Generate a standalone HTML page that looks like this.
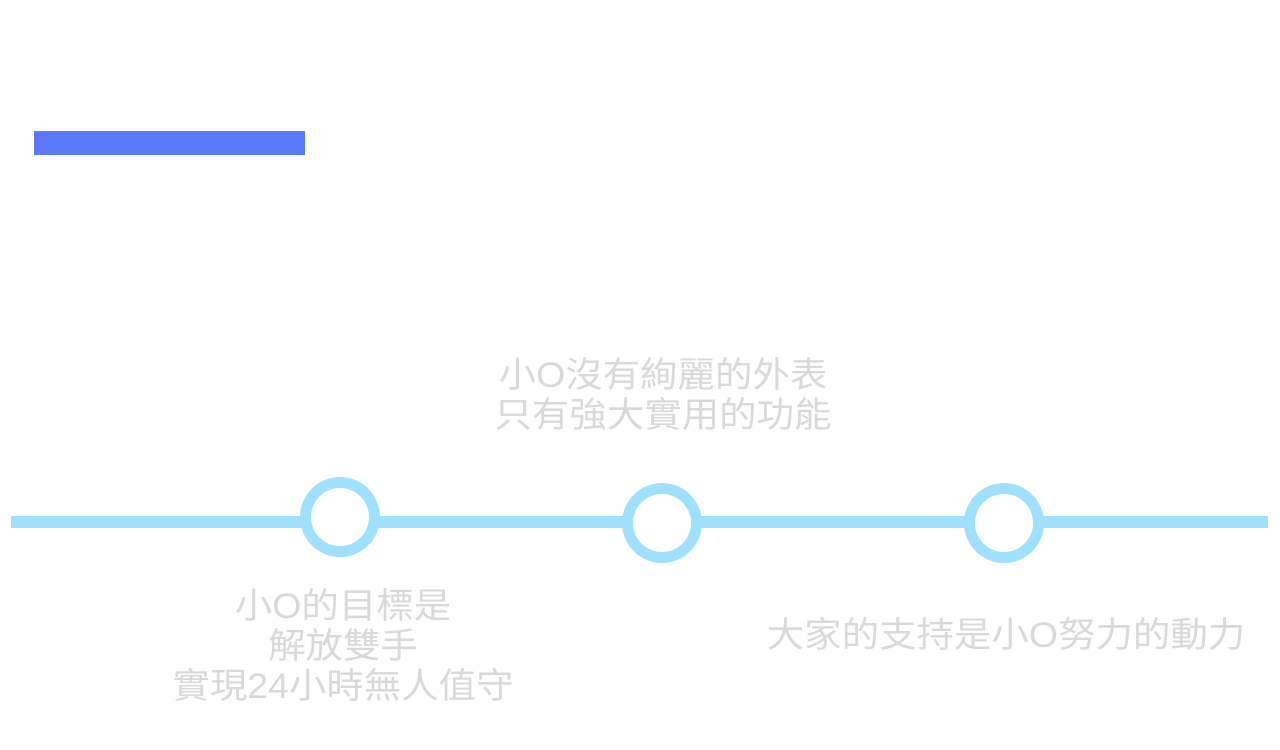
<!DOCTYPE html>
<html><head><meta charset="utf-8"><style>
body{margin:0;width:1280px;height:750px;background:#fff;position:relative;overflow:hidden;font-family:"Liberation Sans","Noto Sans CJK TC",sans-serif;}
.t{position:absolute;color:#d9d9d9;font-size:35px;line-height:40px;text-align:center;white-space:nowrap;transform:translateX(-50%) scaleX(1.07);}
.c{position:absolute;width:58px;height:58px;border:11px solid #a0e0ff;border-radius:50%;background:#fff;}
</style></head><body>
<div style="position:absolute;left:34px;top:131px;width:271px;height:24px;background:#5b78ff"></div>
<div style="position:absolute;left:11px;top:516px;width:1257px;height:12px;background:#a0e0ff"></div>
<div class="c" style="left:300px;top:477px"></div>
<div class="c" style="left:622px;top:483px"></div>
<div class="c" style="left:964px;top:483px"></div>
<div class="t" style="left:663px;top:356px">小O沒有絢麗的外表<br>只有強大實用的功能</div>
<div class="t" style="left:343px;top:587px">小O的目標是<br>解放雙手<br>實現24小時無人值守</div>
<div class="t" style="left:1006px;top:616px">大家的支持是小O努力的動力</div>
</body></html>
